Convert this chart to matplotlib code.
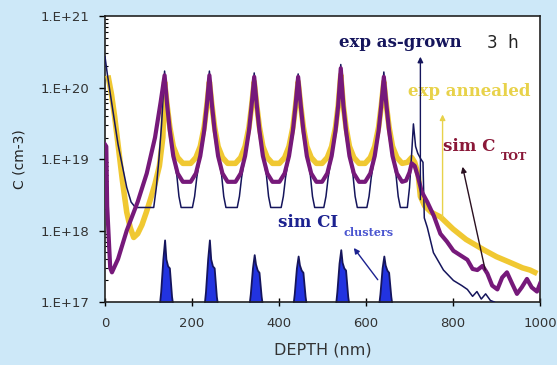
import matplotlib
matplotlib.use("Agg")
import matplotlib.pyplot as plt


# Ausgabe
OUT_FILE = "out.png"
DPI = 100

# Farben
BG_COLOR = "#cde8f8"
YELLOW = "#f0c832"
PURPLE = "#76197a"
NAVY = "#15155c"
BLUE = "#2233e0"

# exp as-grown (Tiefe in nm, Konzentration in cm-3)
grown_depth = [0, 5, 10, 20, 30, 40, 50, 60, 70, 90, 112, 118, 124, 130, 137,
               143, 149, 157, 165, 170, 175, 201, 206, 211, 219, 228, 234, 240,
               246, 252, 260, 268, 273, 278, 304, 309, 314, 322, 331, 337, 343,
               349, 355, 363, 371, 376, 381, 405, 410, 415, 423, 432, 438, 444,
               450, 456, 464, 472, 477, 482, 503, 508, 513, 521, 530, 536, 542,
               548, 554, 562, 570, 575, 580, 602, 607, 612, 620, 629, 635, 641,
               647, 653, 661, 669, 674, 679, 695, 700, 705, 709, 714, 719, 726,
               731, 734, 741, 755, 778, 801, 820, 833, 845, 855, 865, 875, 886,
               895, 905]
grown_conc = [2.7e20, 1.6e20, 1.0e20, 4.0e19, 1.6e19, 8.0e18, 4.0e18, 2.5e18, 2.1e18, 2.1e18,
              2.1e18, 4.0e18, 1.0e19, 3.0e19, 1.7e20,
              5.6e19, 2.5e19, 1.1e19, 6.0e18, 3.0e18, 2.1e18, 2.1e18, 3.0e18, 5.5e18, 1.1e19, 2.5e19, 5.6e19, 1.7e20,
              5.6e19, 2.5e19, 1.1e19, 6.0e18, 3.0e18, 2.1e18, 2.1e18, 3.0e18, 5.5e18, 1.1e19, 2.5e19, 5.6e19, 1.6e20,
              5.6e19, 2.5e19, 1.1e19, 6.0e18, 3.0e18, 2.1e18, 2.1e18, 3.0e18, 5.5e18, 1.1e19, 2.5e19, 5.6e19, 1.55e20,
              5.6e19, 2.5e19, 1.1e19, 6.0e18, 3.0e18, 2.1e18, 2.1e18, 3.0e18, 5.5e18, 1.1e19, 2.5e19, 5.6e19, 2.1e20,
              5.6e19, 2.5e19, 1.1e19, 6.0e18, 3.0e18, 2.1e18, 2.1e18, 3.0e18, 5.5e18, 1.1e19, 2.5e19, 5.6e19, 1.65e20,
              5.6e19, 2.5e19, 1.1e19, 6.0e18, 3.0e18, 2.1e18, 2.1e18, 4.0e18, 1.2e19, 3.1e19, 1.5e19, 1.2e19, 1.0e19,
              9.0e18, 1.5e18, 1.1e18, 4.9e17, 2.8e17, 2.0e17, 1.7e17, 1.5e17, 1.2e17, 1.4e17, 1.1e17, 1.3e17, 1.05e17,
              1.0e17, 9.0e16]

# exp annealed
annealed_depth = [8, 15, 22, 30, 40, 50, 58, 66, 75, 85, 95, 105, 115, 125, 133, 137,
                  143, 149, 157, 167, 179, 197, 209, 219, 228, 234, 240,
                  246, 252, 260, 270, 282, 300, 312, 322, 331, 337, 343,
                  349, 355, 363, 373, 385, 401, 413, 423, 432, 438, 444,
                  450, 456, 464, 474, 486, 499, 511, 521, 530, 536, 542,
                  548, 554, 562, 572, 584, 598, 610, 620, 629, 635, 641,
                  647, 653, 661, 671, 683, 695, 705, 712, 720, 725, 735, 750, 771,
                  800, 830, 870, 900, 930, 960, 977, 988]
annealed_conc = [1.35e20, 8.0e19, 4.0e19, 1.6e19, 5.0e18, 1.8e18, 1.1e18, 8.0e17, 9.0e17, 1.2e18,
                 1.8e18, 2.8e18, 4.5e18, 8.0e18, 2.0e19, 1.2e20,
                 5.5e19, 2.8e19, 1.5e19, 1.05e19, 8.7e18, 8.7e18, 1.05e19, 1.5e19, 2.8e19, 5.5e19, 1.2e20,
                 5.5e19, 2.8e19, 1.5e19, 1.05e19, 8.7e18, 8.7e18, 1.05e19, 1.5e19, 2.8e19, 5.5e19, 1.2e20,
                 5.5e19, 2.8e19, 1.5e19, 1.05e19, 8.7e18, 8.7e18, 1.05e19, 1.5e19, 2.8e19, 5.5e19, 1.2e20,
                 5.5e19, 2.8e19, 1.5e19, 1.05e19, 8.7e18, 8.7e18, 1.05e19, 1.5e19, 2.8e19, 5.5e19, 1.5e20,
                 5.5e19, 2.8e19, 1.5e19, 1.05e19, 8.7e18, 8.7e18, 1.05e19, 1.5e19, 2.8e19, 5.5e19, 1.2e20,
                 5.5e19, 2.8e19, 1.5e19, 1.05e19, 8.7e18, 9.0e18, 1.05e19, 9.0e18, 6.0e18, 3.0e18, 2.2e18, 1.8e18, 1.55e18,
                 1.05e18, 7.5e17, 5.4e17, 4.3e17, 3.6e17, 3.0e17, 2.8e17, 2.6e17]

# sim C_TOT
ctot_depth = [0, 3, 5, 12, 16, 30, 50, 75, 96, 115, 128, 137,
              143, 149, 157, 167, 179, 197, 209, 219, 228, 234, 240,
              246, 252, 260, 270, 282, 300, 312, 322, 331, 337, 343,
              349, 355, 363, 373, 385, 401, 413, 423, 432, 438, 444,
              450, 456, 464, 474, 486, 499, 511, 521, 530, 536, 542,
              548, 554, 562, 572, 584, 598, 610, 620, 629, 635, 641,
              647, 653, 661, 671, 683, 692, 700, 705, 712, 720, 728, 741, 756, 771,
              786, 801, 817, 833, 845, 856, 868, 879, 890, 902, 913, 924, 936, 947,
              958, 970, 981, 993, 1000]
ctot_conc = [1.6e19, 1.5e19, 2.2e18, 3.0e17, 2.6e17, 4.0e17, 1.0e18, 2.5e18, 6.3e18, 2.0e19, 6.3e19, 1.48e20,
             5.6e19, 2.5e19, 1.1e19, 6.3e18, 4.8e18, 4.8e18, 6.3e18, 1.1e19, 2.5e19, 5.6e19, 1.48e20,
             5.6e19, 2.5e19, 1.1e19, 6.3e18, 4.8e18, 4.8e18, 6.3e18, 1.1e19, 2.5e19, 5.6e19, 1.41e20,
             5.6e19, 2.5e19, 1.1e19, 6.3e18, 4.8e18, 4.8e18, 6.3e18, 1.1e19, 2.5e19, 5.6e19, 1.41e20,
             5.6e19, 2.5e19, 1.1e19, 6.3e18, 4.8e18, 4.8e18, 6.3e18, 1.1e19, 2.5e19, 5.6e19, 1.86e20,
             5.6e19, 2.5e19, 1.1e19, 6.3e18, 4.8e18, 4.8e18, 6.3e18, 1.1e19, 2.5e19, 5.6e19, 1.41e20,
             5.6e19, 2.5e19, 1.1e19, 6.3e18, 4.8e18, 5.0e18, 6.5e18, 8.7e18, 8.0e18, 5.5e18, 3.5e18, 2.5e18, 1.6e18, 9.0e17,
             7.0e17, 5.2e17, 4.5e17, 3.9e17, 2.9e17, 2.8e17, 3.2e17, 2.5e17, 1.7e17, 1.5e17, 2.2e17, 2.6e17, 1.8e17, 1.3e17,
             1.6e17, 2.1e17, 1.6e17, 1.4e17, 1.8e17]

# sim CI clusters
ci_depth = [0, 124, 128, 133, 137, 140, 144, 148, 153, 157,
            227, 231, 236, 240, 243, 247, 251, 256, 260,
            330, 334, 339, 343, 346, 350, 354, 359, 363,
            431, 435, 440, 444, 447, 451, 455, 460, 464,
            529, 533, 538, 542, 545, 549, 553, 558, 562,
            628, 632, 637, 641, 644, 648, 652, 657, 661, 1000]
ci_conc = [5e16, 8e16, 1.4e17, 4.0e17, 7.4e17, 4.0e17, 3.2e17, 3.0e17, 1.2e17, 8e16,
           8e16, 1.4e17, 4.0e17, 7.4e17, 4.0e17, 3.2e17, 3.0e17, 1.2e17, 8e16,
           8e16, 1.3e17, 3.0e17, 4.6e17, 3.4e17, 2.8e17, 2.6e17, 1.2e17, 8e16,
           8e16, 1.3e17, 3.0e17, 4.4e17, 3.3e17, 2.8e17, 2.6e17, 1.2e17, 8e16,
           8e16, 1.4e17, 3.5e17, 5.4e17, 3.6e17, 3.0e17, 2.8e17, 1.2e17, 8e16,
           8e16, 1.3e17, 3.0e17, 4.4e17, 3.3e17, 2.8e17, 2.6e17, 1.2e17, 8e16, 5e16]

# Achsen
x_ticks = [0, 200, 400, 600, 800, 1000]
y_ticks = [1e17, 1e18, 1e19, 1e20, 1e21]
y_tick_labels = ["1.E+17", "1.E+18", "1.E+19", "1.E+20", "1.E+21"]


def main():
    fig = plt.figure(figsize=(5.57, 3.65), dpi=DPI, facecolor=BG_COLOR)
    ax = fig.add_axes([0.1885, 0.1726, 0.781, 0.7834])
    ax.set_facecolor("white")

    # Kurven
    ax.fill_between(ci_depth, 1e16, ci_conc, facecolor=BLUE, edgecolor=NAVY,
                    linewidth=1.3, zorder=2)
    ax.plot(annealed_depth, annealed_conc, color=YELLOW, lw=4.0,
            solid_joinstyle="round", zorder=3)
    ax.plot(grown_depth, grown_conc, color=NAVY, lw=1.1, zorder=4)
    ax.plot(ctot_depth, ctot_conc, color=PURPLE, lw=3.0, zorder=5)

    ax.set_yscale("log")
    ax.set_xlim(0, 1000)
    ax.set_ylim(1e17, 1e21)

    ax.set_xticks(x_ticks)
    ax.set_xticklabels([str(t) for t in x_ticks])
    ax.set_yticks(y_ticks)
    ax.set_yticklabels(y_tick_labels)

    ax.tick_params(axis="y", which="major", direction="out", length=4, width=1,
                   pad=7, labelsize=9.5, labelcolor="#333333")
    ax.tick_params(axis="y", which="minor", direction="in", length=2.5, width=0.8)
    ax.tick_params(axis="x", which="major", direction="inout", length=6, width=1,
                   pad=8, labelsize=9.5, labelcolor="#333333")

    for side in ["left", "bottom", "top", "right"]:
        ax.spines[side].set_color("#222222")
        ax.spines[side].set_linewidth(1.2)

    ax.set_xlabel("DEPTH (nm)", fontsize=11.5, color="#333333", labelpad=9)
    ax.set_ylabel("C (cm-3)", fontsize=10, color="#222222", labelpad=10)

    # Beschriftungen im Diagramm
    serif = dict(family="DejaVu Serif", weight="bold", va="center", ha="left")
    ax.text(538, 4.2e20, "exp as-grown", color=NAVY, fontsize=12, **serif)
    ax.text(915, 4.2e20, "3  h", color="#222222", fontsize=12, ha="center",
            va="center")
    ax.text(696, 8.9e19, "exp annealed", color="#e8d24a", fontsize=12, **serif)
    ax.text(776, 1.5e19, "sim C", color="#8a1838", fontsize=12, **serif)
    ax.text(910, 1.1e19, "TOT", color="#8a1838", fontsize=8, **serif)
    ax.text(398, 1.3e18, "sim CI", color="#1c2290", fontsize=12, **serif)
    ax.text(548, 9.5e17, "clusters", color="#4a55d0", fontsize=8, **serif)

    # Pfeile
    arrow = dict(arrowstyle="-|>", lw=1.0, mutation_scale=8, shrinkA=0, shrinkB=0)
    ax.annotate("", xy=(725, 2.7e20), xytext=(725, 2.7e18),
                arrowprops=dict(color=NAVY, **arrow), zorder=6)
    ax.annotate("", xy=(776, 4.2e19), xytext=(776, 1.55e18),
                arrowprops=dict(color="#e8d24a", **arrow), zorder=6)
    ax.annotate("", xy=(822, 7.8e18), xytext=(874, 2.8e17),
                arrowprops=dict(color="#2a1020", **arrow), zorder=6)
    ax.annotate("", xy=(572, 5.7e17), xytext=(627, 2.05e17),
                arrowprops=dict(color="#1c2290", **arrow), zorder=6)

    fig.savefig(OUT_FILE, dpi=DPI, facecolor=BG_COLOR)
    plt.close(fig)


if __name__ == "__main__":
    main()
